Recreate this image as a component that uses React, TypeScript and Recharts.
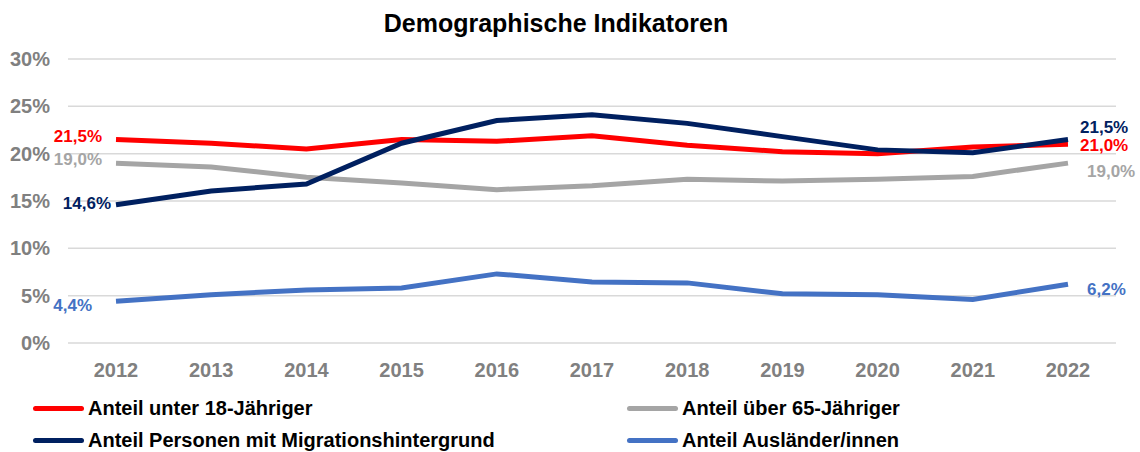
import { LineChart, Line, XAxis, YAxis, CartesianGrid } from 'recharts';

const years = ['2012', '2013', '2014', '2015', '2016', '2017', '2018', '2019', '2020', '2021', '2022'];
const unter18 = [21.5, 21.1, 20.5, 21.5, 21.3, 21.9, 20.9, 20.2, 20.0, 20.7, 21.0];
const ueber65 = [19.0, 18.6, 17.5, 16.9, 16.2, 16.6, 17.3, 17.1, 17.3, 17.6, 19.0];
const migration = [14.6, 16.05, 16.8, 21.1, 23.5, 24.1, 23.2, 21.8, 20.4, 20.1, 21.5];
const auslaender = [4.4, 5.1, 5.6, 5.8, 7.3, 6.45, 6.35, 5.2, 5.1, 4.6, 6.2];
const yTicks = [0, 5, 10, 15, 20, 25, 30];

const data = years.map((year, i) => ({
  year,
  unter18: unter18[i],
  ueber65: ueber65[i],
  migration: migration[i],
  auslaender: auslaender[i],
}));

const FONT = "'Liberation Sans', Arial, sans-serif";

// label offsets relative to first / last point
const series = [
  { key: 'unter18', name: 'Anteil unter 18-Jähriger', color: '#ff0000', first: { dx: -14, dy: -3 }, last: { dx: 12, dy: 1 } },
  { key: 'ueber65', name: 'Anteil über 65-Jähriger', color: '#a5a5a5', first: { dx: -14, dy: -4 }, last: { dx: 19, dy: 8 } },
  { key: 'migration', name: 'Anteil Personen mit Migrationshintergrund', color: '#002060', first: { dx: -5, dy: -1 }, last: { dx: 12, dy: -12 } },
  { key: 'auslaender', name: 'Anteil Ausländer/innen', color: '#4472c4', first: { dx: -24, dy: 4 }, last: { dx: 19, dy: 5 } },
];

const fmt = (v: number) => v.toFixed(1).replace('.', ',') + '%';

function makeLabel(s: (typeof series)[number]) {
  return (props: any) => {
    const { x, y, value, index } = props;
    if (index !== 0 && index !== years.length - 1) return null;
    const first = index === 0;
    const off = first ? s.first : s.last;
    return (
      <text
        x={x + off.dx}
        y={y + off.dy}
        textAnchor={first ? 'end' : 'start'}
        dominantBaseline="central"
        fill={s.color}
        fontSize={17}
        fontWeight="bold"
        fontFamily={FONT}
      >
        {fmt(value)}
      </text>
    );
  };
}

function LegendBox() {
  const cols = [0, 594];
  return (
    <div style={{ position: 'absolute', left: 0, top: 392, width: 1140, height: 60 }}>
      {series.map((s, i) => (
        <div
          key={s.key}
          style={{
            position: 'absolute',
            left: 33 + cols[i % 2],
            top: i < 2 ? 4 : 36,
            height: 24,
            display: 'flex',
            alignItems: 'center',
            fontFamily: FONT,
            fontWeight: 'bold',
            fontSize: 20,
            color: '#000',
            whiteSpace: 'nowrap',
          }}
        >
          <span style={{ display: 'inline-block', width: 51, height: 5, borderRadius: 3, background: s.color, marginRight: 4 }} />
          {s.name}
        </div>
      ))}
    </div>
  );
}

export default function App() {
  return (
    <div style={{ position: 'absolute', left: 0, top: 0, width: 1140, height: 452, background: '#fff' }}>
      <div
        style={{
          position: 'absolute',
          top: 9,
          left: 0,
          width: 1112,
          textAlign: 'center',
          fontFamily: FONT,
          fontWeight: 'bold',
          fontSize: 25,
          color: '#000',
        }}
      >
        Demographische Indikatoren
      </div>
      <LineChart width={1140} height={452} data={data} margin={{ top: 59, right: 24, bottom: 79, left: 8 }}>
        <CartesianGrid vertical={false} stroke="#d9d9d9" strokeWidth={1.5} />
        <XAxis
          dataKey="year"
          axisLine={false}
          tickLine={false}
          height={30}
          padding={{ left: 48, right: 48 }}
          tickMargin={14}
          tick={{ fill: '#808080', fontSize: 20, fontWeight: 'bold', fontFamily: FONT }}
        />
        <YAxis
          domain={[0, 30]}
          ticks={yTicks}
          width={60}
          axisLine={false}
          tickLine={false}
          tickMargin={12}
          tickFormatter={(v: number) => `${v}%`}
          tick={{ fill: '#808080', fontSize: 20, fontWeight: 'bold', fontFamily: FONT }}
        />
        {series.map((s) => (
          <Line
            key={s.key}
            type="linear"
            dataKey={s.key}
            name={s.name}
            stroke={s.color}
            strokeWidth={5}
            dot={false}
            activeDot={false}
            isAnimationActive={false}
            label={makeLabel(s)}
          />
        ))}
      </LineChart>
      <LegendBox />
    </div>
  );
}
